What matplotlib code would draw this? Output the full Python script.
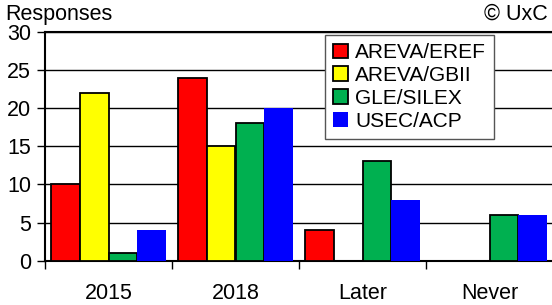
import matplotlib
matplotlib.use("Agg")
import matplotlib.pyplot as plt
import numpy as np

plt.rcParams.update({
    "font.family": ["Liberation Sans", "DejaVu Sans"],
    "font.size": 15,
})

# ── data ──────────────────────────────────────────────────────────────
categories = ["2015", "2018", "Later", "Never"]
series = ["AREVA/EREF", "AREVA/GBII", "GLE/SILEX", "USEC/ACP"]
areva_eref = [10, 24, 4, 0]
areva_gbii = [22, 15, 0, 0]
gle_silex = [1, 18, 13, 6]
usec_acp = [4, 20, 8, 6]
values = [areva_eref, areva_gbii, gle_silex, usec_acp]

colors = ["#FF0000", "#FFFF00", "#00B050", "#0000FF"]
edges = ["black", "black", "black", "none"]

W, H = 552, 305
fig = plt.figure(figsize=(W / 100, H / 100), dpi=100)
ax = fig.add_axes([45 / W, (H - 260.7) / H, 508 / W, 229 / H])

x = np.arange(len(categories))
bw = 0.225
for i, (vals, c, ec) in enumerate(zip(values, colors, edges)):
    ax.bar(x + (i - 1.5) * bw, vals, width=bw, color=c, edgecolor=ec,
           linewidth=1.3, label=series[i], zorder=3)

ax.set_xlim(-0.5, 3.5)
ax.set_ylim(0, 30)
ax.set_yticks(range(0, 31, 5))
ax.yaxis.grid(True, color="black", linewidth=1.0)
ax.set_axisbelow(True)
ax.tick_params(axis="y", direction="out", length=6, width=1, pad=4, labelsize=15.5)

# x: boundary ticks, labels centred on categories
ax.set_xticks(np.arange(-0.5, 3.0, 1.0))
ax.set_xticklabels([])
ax.tick_params(axis="x", which="major", direction="out", length=6, width=1)
ax.set_xticks(x, minor=True)
ax.set_xticklabels(categories, minor=True)
ax.tick_params(axis="x", which="minor", length=0, pad=16, labelsize=15.5)

ax.spines["right"].set_visible(False)
for s in ("left", "bottom", "top"):
    ax.spines[s].set_linewidth(1.5)

leg = ax.legend(loc="upper left", bbox_to_anchor=(325 / W, (H - 35) / H),
                bbox_transform=fig.transFigure, fontsize=15, frameon=True,
                fancybox=False, edgecolor="#555555", framealpha=1,
                handlelength=0.7, handleheight=0.7, handletextpad=0.35,
                labelspacing=0.18, borderpad=0.4, borderaxespad=0)
leg.get_frame().set_linewidth(1.0)
leg.set_zorder(5)

fig.text(5 / W, (H - 20) / H, "Responses", ha="left", va="baseline", fontsize=15.5)
fig.text(548 / W, (H - 20) / H, "© UxC", ha="right", va="baseline", fontsize=15.5)

fig.savefig("out.png", dpi=100)
